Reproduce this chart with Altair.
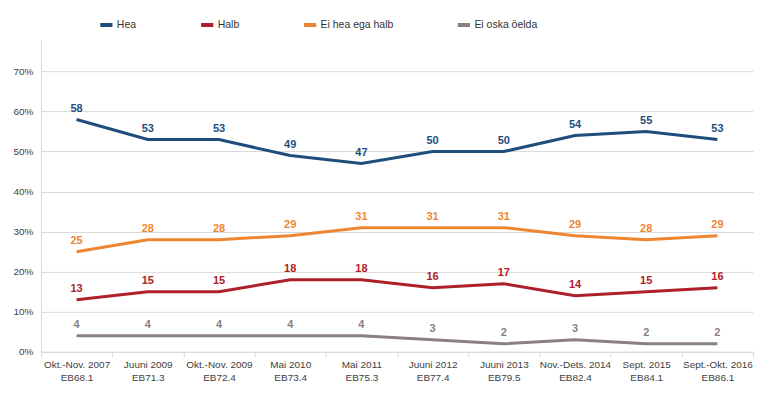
import altair as alt
import pandas as pd

periods = ["Okt.-Nov. 2007|EB68.1", "Juuni 2009|EB71.3", "Okt.-Nov. 2009|EB72.4",
           "Mai 2010|EB73.4", "Mai 2011|EB75.3", "Juuni 2012|EB77.4",
           "Juuni 2013|EB79.5", "Nov.-Dets. 2014|EB82.4", "Sept. 2015|EB84.1",
           "Sept.-Okt. 2016|EB86.1"]
series = ["Hea", "Halb", "Ei hea ega halb", "Ei oska öelda"]
colors = ["#1F4E7D", "#AE2029", "#EE8631", "#8A8082"]
hea = [58, 53, 53, 49, 47, 50, 50, 54, 55, 53]
halb = [13, 15, 15, 18, 18, 16, 17, 14, 15, 16]
ei_hea = [25, 28, 28, 29, 31, 31, 31, 29, 28, 29]
ei_oska = [4, 4, 4, 4, 4, 3, 2, 3, 2, 2]

rows = []
for name, vals in zip(series, [hea, halb, ei_hea, ei_oska]):
    for p, v in zip(periods, vals):
        rows.append({"period": p, "series": name, "value": v / 100, "label": str(v)})
df = pd.DataFrame(rows)

x = alt.X("period:N", sort=periods, title=None,
          scale=alt.Scale(paddingInner=0, paddingOuter=0),
          axis=alt.Axis(labelAngle=0, labelExpr="split(datum.label, '|')",
                        tickBand="extent", labelFont="Liberation Sans",
                        labelFontSize=10, labelColor="#404040", labelLineHeight=13,
                        domainColor="#D9D9D9", tickColor="#D9D9D9", tickSize=5,
                        labelPadding=3, grid=False))
y = alt.Y("value:Q", title=None,
          scale=alt.Scale(domain=[0, 0.778], nice=False),
          axis=alt.Axis(format=".0%", values=[0, 0.1, 0.2, 0.3, 0.4, 0.5, 0.6, 0.7],
                        labelFont="Liberation Sans", labelFontSize=10,
                        labelColor="#404040", gridColor="#D9D9D9",
                        domainColor="#D9D9D9", ticks=False, labelPadding=8))
color = alt.Color("series:N", sort=series,
                  scale=alt.Scale(domain=series, range=colors),
                  legend=alt.Legend(title=None, orient="none", direction="horizontal",
                                    legendX=57, legendY=-24, symbolType="stroke",
                                    symbolStrokeWidth=4, symbolSize=150,
                                    labelFont="Liberation Sans", labelFontSize=10.5,
                                    labelColor="#333333", columnPadding=56,
                                    labelOffset=2))

base = alt.Chart(df).encode(x=x, y=y, color=color)
lines = base.mark_line(strokeWidth=3)
labels = base.mark_text(dy=-11, fontWeight="bold", font="Liberation Sans",
                        fontSize=11).encode(text="label:N")

chart = (lines + labels).properties(
    width=713, height=312,
    background="white",
    autosize=alt.AutoSizeParams(type="none"),
    padding={"left": 33, "top": 32, "right": 7, "bottom": 36},
).configure_view(stroke=None)

chart.save("out.html", embed_options={"renderer": "svg", "actions": False})
